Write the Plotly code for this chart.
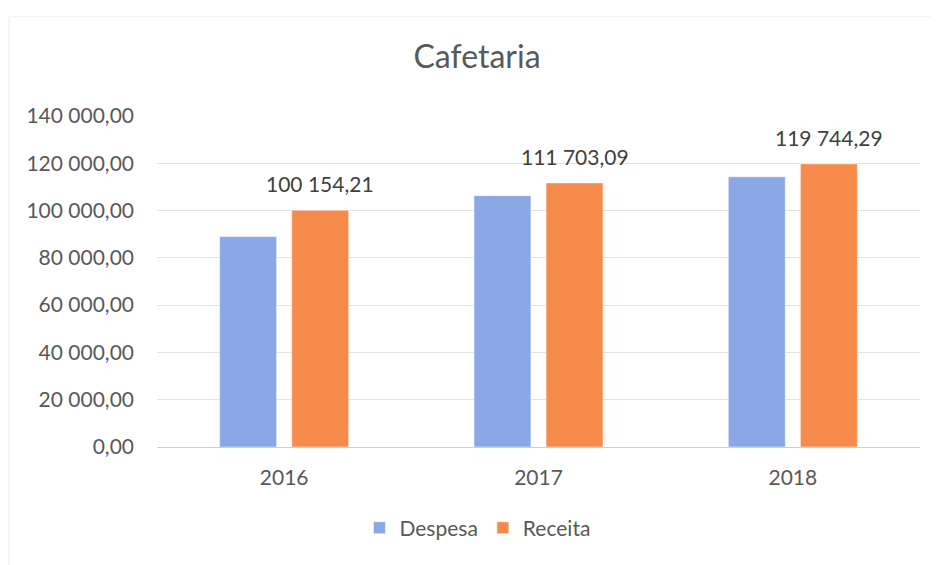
import plotly.graph_objects as go

anos = ["2016", "2017", "2018"]
despesa = [89000, 106300, 114300]
receita = [100154.21, 111703.09, 119744.29]

y_ticks = [0, 20000, 40000, 60000, 80000, 100000, 120000, 140000]

fonte = "Lato, Noto Sans, sans-serif"
cinza = "#595959"

fig = go.Figure()

fig.add_trace(
    go.Bar(
        x=anos,
        y=despesa,
        name="Despesa",
        marker=dict(color="#8AA8E6"),
    )
)

fig.add_trace(
    go.Bar(
        x=anos,
        y=receita,
        name="Receita",
        marker=dict(color="#F78B4B"),
    )
)

# rótulos de dados da receita (acima da barra laranja)
# eixo categórico: posição pelo índice da categoria
for i, valor in enumerate(receita):
    fig.add_annotation(
        x=i,
        y=valor,
        xref="x",
        yref="y",
        text=f"{valor:,.2f}".replace(",", " ").replace(".", ","),
        showarrow=False,
        xshift=36,
        yshift=12,
        yanchor="bottom",
        font=dict(size=21, color="#404040", family=fonte),
    )

# moldura esquerda e superior
fig.add_shape(
    type="line", xref="paper", yref="paper",
    x0=-0.194, x1=-0.194, y0=-0.36, y1=1.30,
    line=dict(color="#ECECEC", width=1),
)
fig.add_shape(
    type="line", xref="paper", yref="paper",
    x0=-0.194, x1=1.03, y0=1.30, y1=1.30,
    line=dict(color="#F0F0F0", width=1),
)

fig.update_layout(
    template="plotly_white",
    width=938,
    height=565,
    separators=", ",
    title=dict(
        text="Cafetaria",
        x=0.5,
        xanchor="center",
        y=0.913,
        yanchor="middle",
        font=dict(size=32, color=cinza, family=fonte),
    ),
    font=dict(family=fonte, color=cinza),
    margin=dict(l=149, r=26, t=108, b=126),
    bargap=0.433,
    bargroupgap=0.21,
    showlegend=True,
    legend=dict(
        orientation="h",
        x=0.42,
        xanchor="center",
        y=-0.245,
        yanchor="middle",
        font=dict(size=21, color=cinza),
        itemwidth=30,
    ),
    plot_bgcolor="white",
    paper_bgcolor="white",
)

fig.update_yaxes(
    range=[0, 140000],
    tickvals=y_ticks,
    tickformat=",.2f",
    tickfont=dict(size=21, color=cinza),
    gridcolor="#E3E3E3",
    zeroline=False,
    showline=False,
    ticks="",
    ticklabelstandoff=22,
)

fig.update_xaxes(
    type="category",
    range=[-0.5, 2.5],
    tickfont=dict(size=21, color=cinza),
    showline=True,
    linecolor="#D0D0D0",
    ticks="",
    ticklabelstandoff=12,
)

fig.write_html("out.html")
